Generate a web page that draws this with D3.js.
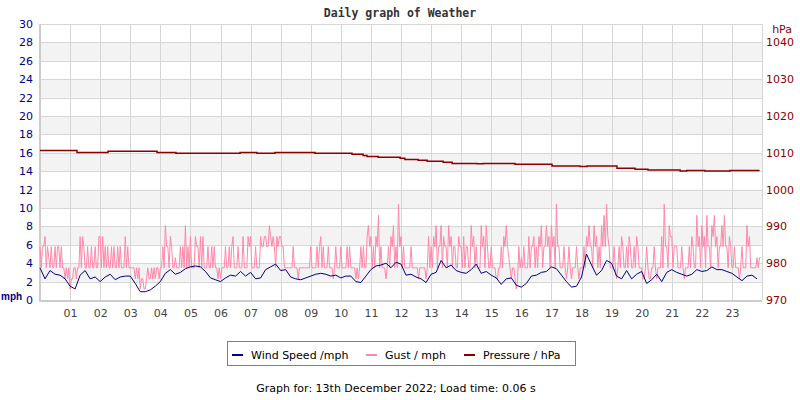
<!DOCTYPE html>
<html>
<head>
<meta charset="utf-8">
<script src="https://cdn.jsdelivr.net/npm/d3@7"></script>
<style>
  body { margin: 0; background: #fff; }
  svg { display: block; font-family: "DejaVu Sans", sans-serif; }
</style>
</head>
<body>
<script>
// Wind speed (mph), one value every 10 minutes, one row per hour
const windSpeed = [
  3.5, 2.3, 3.2, 2.8, 2.7, 2.3,
  1.5, 1.2, 2.7, 3.2, 2.3, 2.5,
  2.0, 2.5, 2.8, 2.2, 2.5, 2.6,
  2.6, 1.8, 0.9, 0.9, 1.1, 1.5,
  2.0, 2.9, 3.3, 2.8, 3.0, 3.4,
  3.6, 3.7, 3.6, 3.1, 2.4, 2.2,
  2.0, 2.4, 2.7, 2.6, 3.1, 2.6,
  3.0, 2.3, 2.4, 3.3, 3.6, 3.9,
  3.2, 3.3, 2.5, 2.3, 2.2, 2.4,
  2.6, 2.8, 2.9, 2.8, 2.6, 2.7,
  2.4, 2.6, 2.6, 2.0, 1.9, 2.6,
  3.3, 3.7, 3.8, 4.0, 3.5, 4.1,
  3.9, 2.7, 2.8, 2.5, 2.3, 1.9,
  2.8, 3.0, 4.3, 3.5, 3.8, 3.2,
  3.0, 2.9, 3.3, 3.9, 2.9, 3.1,
  2.7, 2.4, 1.7, 2.3, 2.4, 1.6,
  1.4, 1.8, 2.6, 2.7, 3.0, 3.1,
  3.6, 3.4, 2.7, 2.0, 1.4, 1.5,
  2.5, 5.0, 3.8, 2.7, 3.2, 4.3,
  4.0, 2.6, 2.3, 3.2, 2.3, 2.8,
  3.1, 1.8, 2.2, 2.8, 2.0, 3.0,
  3.3, 3.0, 2.8, 2.6, 2.8, 3.3,
  3.1, 3.2, 3.6, 3.3, 3.3, 3.1,
  2.9, 2.5, 2.1, 2.6, 2.7, 2.3
];

// Gust (mph), read about every 2.5 minutes, one row per hour
const gust = [
  5.8,3.5,5.8,5.8,6.9,3.5,5.8,4.6,3.5,5.8,3.5,3.5,5.8,3.5,5.8,5.8,3.5,5.8,3.5,3.5,2.3,3.5,2.3,3.5,
  1.2,2.3,2.3,3.5,3.5,2.3,3.5,3.5,6.9,3.5,6.9,5.8,3.5,3.5,5.8,3.5,3.5,5.8,3.5,3.5,5.8,3.5,3.5,6.9,
  6.9,3.5,6.9,3.5,5.8,3.5,5.8,3.5,3.5,5.8,3.5,5.8,3.5,3.5,5.8,3.5,5.8,3.5,3.5,3.5,6.9,3.5,5.8,3.5,
  3.5,3.5,3.5,3.5,2.3,3.5,2.3,3.5,1.2,2.3,2.3,1.2,1.2,2.3,3.5,2.3,2.3,3.5,2.3,3.5,2.3,3.5,3.5,2.3,
  3.5,3.5,5.8,3.5,8.1,5.8,5.8,3.5,6.9,5.8,3.5,3.5,4.6,3.5,3.5,3.5,5.8,3.5,5.8,3.5,8.1,3.5,5.8,3.5,
  6.9,3.5,3.5,3.5,6.9,5.8,5.8,3.5,6.9,3.5,6.9,3.5,3.5,3.5,5.8,3.5,3.5,5.8,3.5,5.8,3.5,3.5,2.3,3.5,
  2.3,3.5,3.5,3.5,5.8,3.5,3.5,5.8,3.5,5.8,6.9,3.5,3.5,3.5,5.8,3.5,3.5,3.5,6.9,3.5,3.5,3.5,6.9,5.8,
  6.9,3.5,3.5,3.5,5.8,3.5,3.5,3.5,6.9,5.8,5.8,6.9,6.9,5.8,5.8,8.1,6.9,5.8,6.9,5.8,3.5,6.9,5.8,6.9,
  6.9,5.8,5.8,3.5,3.5,3.5,3.5,3.5,3.5,3.5,5.8,3.5,3.5,3.5,2.3,3.5,3.5,3.5,3.5,3.5,3.5,3.5,3.5,3.5,
  5.8,3.5,3.5,3.5,3.5,5.8,3.5,5.8,6.9,3.5,5.8,3.5,3.5,3.5,5.8,3.5,3.5,3.5,2.3,3.5,5.8,3.5,3.5,3.5,
  5.8,3.5,3.5,3.5,3.5,5.8,3.5,5.8,3.5,3.5,3.5,3.5,2.3,3.5,2.3,3.5,5.8,3.5,5.8,3.5,3.5,6.9,8.1,5.8,
  6.9,3.5,5.8,3.5,6.9,5.8,9.2,3.5,5.8,3.5,3.5,3.5,2.3,3.5,5.8,3.5,6.9,5.8,8.1,3.5,5.8,3.5,10.4,5.8,
  6.9,3.5,5.8,3.5,3.5,3.5,3.5,3.5,5.8,3.5,3.5,3.5,3.5,3.5,2.3,3.5,3.5,3.5,3.5,3.5,2.3,3.5,6.9,3.5,
  5.8,3.5,6.9,5.8,8.1,3.5,5.8,5.8,8.1,3.5,6.9,5.8,5.8,3.5,8.1,5.8,6.9,3.5,5.8,5.8,3.5,3.5,6.9,5.8,
  5.8,3.5,6.9,3.5,5.8,5.8,3.5,3.5,8.1,5.8,6.9,3.5,5.8,3.5,3.5,3.5,8.1,5.8,6.9,3.5,8.1,5.8,3.5,3.5,
  5.8,3.5,3.5,3.5,2.3,2.3,3.5,3.5,5.8,3.5,6.9,5.8,8.1,5.8,4.6,3.5,2.3,3.5,3.5,2.3,1.2,2.3,5.8,3.5,
  4.6,3.5,5.8,3.5,3.5,3.5,6.9,3.5,5.8,5.8,6.9,3.5,5.8,3.5,6.9,5.8,8.1,3.5,5.8,5.8,8.1,5.8,6.9,3.5,
  8.1,5.8,6.9,3.5,10.4,5.8,5.8,3.5,3.5,3.5,5.8,3.5,2.3,3.5,5.8,3.5,2.3,3.5,3.5,3.5,5.8,3.5,2.3,3.5,
  3.5,3.5,5.8,3.5,6.9,5.8,8.1,5.8,5.8,3.5,8.1,5.8,6.9,3.5,5.8,3.5,8.1,5.8,9.2,5.8,10.4,6.9,5.8,3.5,
  3.5,3.5,5.8,3.5,2.3,3.5,5.8,3.5,6.9,5.8,3.5,3.5,5.8,3.5,6.9,5.8,3.5,3.5,5.8,3.5,6.9,5.8,3.5,3.5,
  3.5,2.3,2.3,3.5,5.8,3.5,2.3,2.3,3.5,3.5,5.8,3.5,2.3,3.5,3.5,3.5,6.9,3.5,10.4,5.8,5.8,3.5,8.1,6.9,
  6.9,3.5,5.8,5.8,5.8,3.5,3.5,3.5,5.8,3.5,2.3,3.5,3.5,3.5,5.8,3.5,6.9,5.8,3.5,3.5,9.2,5.8,6.9,3.5,
  8.1,5.8,6.9,3.5,9.2,5.8,5.8,3.5,8.1,6.9,9.2,5.8,6.9,3.5,5.8,5.8,8.1,5.8,9.2,5.8,5.8,3.5,6.9,5.8,
  3.5,3.5,5.8,3.5,3.5,3.5,2.3,3.5,5.8,3.5,3.5,3.5,8.1,5.8,6.9,3.5,3.5,3.5,3.5,3.5,4.6,3.5,4.6,4.6
];

// Pressure (hPa), value changes at these hours
const pressHour = [0, 1.23, 2.26, 3.89, 4.52, 6.65, 7.21, 7.81, 9.14, 10.37, 10.74, 10.87,
  11.24, 11.97, 12.13, 12.57, 12.87, 13.4, 13.7, 14.53, 14.73, 15.79, 17.02, 17.95,
  18.18, 19.18, 19.78, 20.21, 21.28, 21.5, 22.1, 22.94, 23.92];
const pressValue = [1010.6, 1010.1, 1010.4, 1010.1, 1009.9, 1010.1, 1009.9, 1010.1, 1009.9, 1009.6, 1009.3, 1009.0,
  1008.8, 1008.5, 1008.2, 1007.95, 1007.7, 1007.4, 1007.1, 1007.0, 1007.1, 1006.9, 1006.4, 1006.3,
  1006.4, 1005.8, 1005.5, 1005.3, 1005.05, 1005.2, 1005.05, 1005.2, 1005.2];

const hourTicks = d3.range(1, 24);
const mphTicks = d3.range(0, 31, 2);
const hpaTicks = [970, 980, 990, 1000, 1010, 1020, 1030, 1040];

const legendItems = [
  {label: "Wind Speed /mph", color: "#000080"},
  {label: "Gust / mph", color: "#ff88aa"},
  {label: "Pressure / hPa", color: "#8b0000"}
];

const W = 800, H = 400;
const plot = {left: 40, right: 762, top: 24, bottom: 300};

const svg = d3.select("body").append("svg")
  .attr("width", W)
  .attr("height", H);

const x = d3.scaleLinear().domain([0, 24]).range([plot.left, plot.right]);
const y = d3.scaleLinear().domain([0, 30]).range([plot.bottom, plot.top]);
const yP = d3.scaleLinear().domain([970, 1045]).range([plot.bottom, plot.top]);

// Bandes grises
svg.append("g")
  .selectAll("rect")
  .data(mphTicks.filter(v => v % 4 === 2 && v < 30))
  .enter().append("rect")
  .attr("x", plot.left)
  .attr("width", plot.right - plot.left)
  .attr("y", d => y(d + 2))
  .attr("height", d => y(d) - y(d + 2))
  .attr("fill", "#f3f3f3");

// Grille
svg.append("g")
  .selectAll("line")
  .data(mphTicks)
  .enter().append("line")
  .attr("x1", plot.left).attr("x2", plot.right)
  .attr("y1", d => Math.round(y(d)) + 0.5).attr("y2", d => Math.round(y(d)) + 0.5)
  .attr("stroke", "#d6d6d6");

svg.append("g")
  .selectAll("line")
  .data(hourTicks.concat([24]))
  .enter().append("line")
  .attr("x1", d => Math.round(x(d)) + 0.5).attr("x2", d => Math.round(x(d)) + 0.5)
  .attr("y1", plot.top).attr("y2", plot.bottom)
  .attr("stroke", "#d6d6d6");

// Axe gauche et bas
svg.append("line")
  .attr("x1", plot.left).attr("x2", plot.left)
  .attr("y1", plot.top).attr("y2", plot.bottom + 1)
  .attr("stroke", "#cccccc").attr("stroke-width", 2);
svg.append("line")
  .attr("x1", plot.left - 1).attr("x2", plot.right)
  .attr("y1", plot.bottom + 1).attr("y2", plot.bottom + 1)
  .attr("stroke", "#cccccc").attr("stroke-width", 2);

// Courbes
const gustLine = d3.line()
  .x((d, i) => x(i * 24 / gust.length))
  .y(d => y(d));
svg.append("path")
  .datum(gust)
  .attr("d", gustLine)
  .attr("fill", "none")
  .attr("stroke", "#ff88aa")
  .attr("stroke-width", 1);

const windLine = d3.line()
  .x((d, i) => x(i / 6))
  .y(d => y(d));
svg.append("path")
  .datum(windSpeed)
  .attr("d", windLine)
  .attr("fill", "none")
  .attr("stroke", "#000080")
  .attr("stroke-width", 1);

const pressLine = d3.line()
  .x((d, i) => x(pressHour[i]))
  .y(d => yP(d))
  .curve(d3.curveStepAfter);
svg.append("path")
  .datum(pressValue)
  .attr("d", pressLine)
  .attr("fill", "none")
  .attr("stroke", "#8b0000")
  .attr("stroke-width", 1.5);

// Axes
const axL = svg.append("g")
  .attr("transform", "translate(" + (plot.left - 7) + ",0)")
  .call(d3.axisLeft(y).tickValues(mphTicks).tickSize(0).tickPadding(0));
axL.select(".domain").remove();
axL.selectAll("text")
  .attr("fill", "#000080")
  .style("font-size", "11px")
  .style("font-family", "DejaVu Sans");

const axR = svg.append("g")
  .attr("transform", "translate(" + (plot.right + 4) + ",0)")
  .call(d3.axisRight(yP).tickValues(hpaTicks).tickFormat(d3.format("d")).tickSize(0).tickPadding(0));
axR.select(".domain").remove();
axR.selectAll("text")
  .attr("fill", "#8b0000")
  .style("font-size", "11px")
  .style("font-family", "DejaVu Sans");

const axB = svg.append("g")
  .attr("transform", "translate(0," + (plot.bottom + 9) + ")")
  .call(d3.axisBottom(x).tickValues(hourTicks).tickFormat(d3.format("02d")).tickSize(0).tickPadding(0));
axB.select(".domain").remove();
axB.selectAll("text")
  .attr("fill", "#444")
  .style("font-size", "11px")
  .style("font-family", "DejaVu Sans");

// Unites
svg.append("text")
  .attr("x", 1).attr("y", 300)
  .attr("fill", "#000080")
  .style("font-family", "Liberation Sans")
  .style("font-size", "10px")
  .style("font-weight", "bold")
  .text("mph");
svg.append("text")
  .attr("x", 792).attr("y", 33)
  .attr("text-anchor", "end")
  .attr("fill", "#8b0000")
  .style("font-size", "11px")
  .text("hPa");

// Titre
svg.append("text")
  .attr("x", 400).attr("y", 17)
  .attr("text-anchor", "middle")
  .attr("fill", "#333")
  .style("font-family", "DejaVu Sans Mono")
  .style("font-weight", "bold")
  .style("font-size", "11.5px")
  .text("Daily graph of Weather");

// Legende
svg.append("rect")
  .attr("x", 227.5).attr("y", 341.5)
  .attr("width", 348).attr("height", 24)
  .attr("fill", "#fff")
  .attr("stroke", "#808080");

const legendX = [232, 366, 464];
const leg = svg.append("g")
  .selectAll("g")
  .data(legendItems)
  .enter().append("g")
  .attr("transform", (d, i) => "translate(" + legendX[i] + ",355)");
leg.append("line")
  .attr("x1", 0).attr("x2", 11)
  .attr("y1", 0).attr("y2", 0)
  .attr("stroke", d => d.color)
  .attr("stroke-width", 2);
leg.append("text")
  .attr("x", 19).attr("y", 4)
  .attr("fill", "#000")
  .style("font-size", "11px")
  .text(d => d.label);

// Pied
svg.append("text")
  .attr("x", 396).attr("y", 392)
  .attr("text-anchor", "middle")
  .attr("fill", "#000")
  .style("font-size", "11px")
  .text("Graph for: 13th December 2022; Load time: 0.06 s");
</script>
</body>
</html>
